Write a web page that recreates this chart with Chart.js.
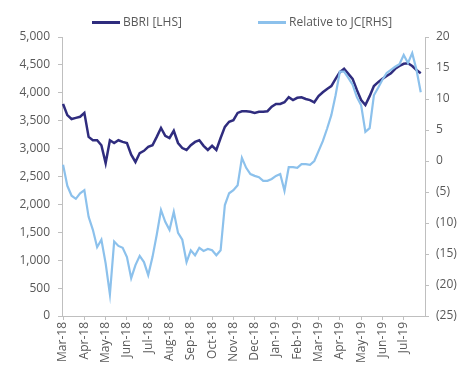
<!DOCTYPE html>
<html>
<head>
<meta charset="utf-8">
<script src="https://cdn.jsdelivr.net/npm/chart.js@4"></script>
<style>
  html, body { margin: 0; padding: 0; background: #fff; }
  #wrap { position: relative; width: 461px; height: 374px; }
  #legend { position: absolute; top: 13px; left: 0; width: 461px; height: 18px;
            font: 12px "Open Sans", sans-serif; color: #595959; }
  .item { position: absolute; top: 0; line-height: 18px; white-space: nowrap; }
  .swatch { display: inline-block; width: 28px; height: 3px; vertical-align: middle; margin-right: 3px; }
</style>
</head>
<body>
<div id="wrap">
  <canvas id="bbriChart" width="461" height="374"></canvas>
  <div id="legend"></div>
</div>
<script>
// month tick labels (one per month start)
const monthLabels = ['Mar-18', 'Apr-18', 'May-18', 'Jun-18', 'Jul-18', 'Aug-18', 'Sep-18', 'Oct-18',
    'Nov-18', 'Dec-18', 'Jan-19', 'Feb-19', 'Mar-19', 'Apr-19', 'May-19', 'Jun-19', 'Jul-19'];

// BBRI share price (LHS), sampled every 0.2 month from Mar-18
const bbri = [
    3800, 3600, 3530, 3550, 3570, 3640, 3210, 3150, 3150, 3060,
    2740, 3150, 3100, 3150, 3120, 3100, 2890, 2760, 2920, 2960,
    3030, 3060, 3210, 3370, 3230, 3190, 3320, 3100, 3010, 2975,
    3060, 3120, 3150, 3050, 2975, 3050, 2975, 3190, 3390, 3480,
    3510, 3640, 3670, 3670, 3660, 3640, 3660, 3660, 3670, 3750,
    3800, 3800, 3830, 3920, 3870, 3910, 3920, 3890, 3870, 3830,
    3940, 4010, 4070, 4120, 4250, 4370, 4430, 4340, 4250, 4050,
    3870, 3780, 3940, 4120, 4190, 4250, 4300, 4350, 4430, 4480,
    4520, 4530, 4480, 4410, 4350
];

// relative performance to JCI in % (RHS), same sampling
const relJci = [
    -0.6, -4.0, -5.6, -6.1, -5.2, -4.7, -9.0, -11.1, -13.9, -12.7,
    -16.5, -21.5, -13.0, -13.7, -14.0, -15.5, -18.9, -16.8, -15.3, -16.3,
    -18.4, -15.5, -11.9, -7.9, -9.8, -11.1, -8.2, -11.6, -12.7, -16.3,
    -14.4, -15.2, -14.0, -14.5, -14.2, -14.4, -15.2, -14.4, -7.1, -5.2,
    -4.7, -3.9, 0.5, -1.1, -2.1, -2.4, -2.6, -3.2, -3.2, -2.9,
    -2.4, -2.1, -4.8, -1.0, -1.0, -1.1, -0.5, -0.5, -0.6, 0.0,
    1.6, 3.2, 5.2, 7.4, 10.6, 14.4, 14.4, 13.4, 12.3, 10.3,
    9.0, 4.7, 5.3, 10.6, 11.8, 13.1, 14.2, 14.7, 15.2, 15.6,
    17.1, 15.8, 17.4, 14.7, 11.1
];

const darkBlue = '#2f2c7e';
const lightBlue = '#8cc1ec';
const axisGrey = '#bfbfbf';
const textGrey = '#595959';

const ctx = document.getElementById('bbriChart').getContext('2d');

const bbriPoints = bbri.map((v, i) => ({ x: i * 0.2, y: v }));
const relPoints = relJci.map((v, i) => ({ x: i * 0.2, y: v }));

const tickFont = { family: '"Open Sans", sans-serif', size: 12 };

const bbriChart = new Chart(ctx, {
    type: 'line',
    data: {
        datasets: [
            {
                label: 'BBRI [LHS]',
                data: bbriPoints,
                yAxisID: 'yLeft',
                borderColor: darkBlue,
                borderWidth: 2.5,
                pointRadius: 0,
                tension: 0,
                order: 1
            },
            {
                label: 'Relative to JC[RHS]',
                data: relPoints,
                yAxisID: 'yRight',
                borderColor: lightBlue,
                borderWidth: 2.2,
                pointRadius: 0,
                tension: 0,
                order: 0
            }
        ]
    },
    options: {
        responsive: false,
        animation: false,
        layout: { padding: { top: 37, left: 0, right: 0, bottom: 0 } },
        plugins: {
            legend: { display: false },
            tooltip: { enabled: false }
        },
        scales: {
            x: {
                type: 'linear',
                min: -0.05,
                max: 17.0,
                afterBuildTicks: (scale) => {
                    scale.ticks = monthLabels.map((_, i) => ({ value: i }));
                },
                afterFit: (scale) => { scale.height = 58; },
                grid: { drawOnChartArea: false, drawTicks: true, tickLength: 4, color: axisGrey },
                border: { display: true, color: axisGrey },
                ticks: {
                    autoSkip: false,
                    minRotation: 90,
                    maxRotation: 90,
                    padding: 2,
                    color: textGrey,
                    font: tickFont,
                    callback: (value) => monthLabels[value]
                }
            },
            yLeft: {
                position: 'left',
                min: 0,
                max: 5000,
                afterFit: (scale) => { scale.width = 62; },
                grid: { drawOnChartArea: false, drawTicks: true, tickLength: 4, color: axisGrey },
                border: { display: true, color: axisGrey },
                ticks: {
                    stepSize: 500,
                    padding: 8,
                    color: textGrey,
                    font: tickFont,
                    callback: (value) => value.toLocaleString('en-US')
                }
            },
            yRight: {
                position: 'right',
                min: -25,
                max: 20,
                afterFit: (scale) => { scale.width = 36; },
                grid: { drawOnChartArea: false, drawTicks: true, tickLength: 4, color: axisGrey },
                border: { display: true, color: axisGrey },
                ticks: {
                    stepSize: 5,
                    padding: 7,
                    color: textGrey,
                    font: tickFont,
                    callback: (value) => value < 0 ? '(' + (-value) + ')' : String(value)
                }
            }
        }
    }
});

// legend drawn as html so the two entries sit where the original has them
const legend = document.getElementById('legend');
const legendPos = [92, 258];
bbriChart.data.datasets.forEach((ds, i) => {
    const item = document.createElement('div');
    item.className = 'item';
    item.style.left = legendPos[i] + 'px';
    item.innerHTML = '<span class="swatch" style="background:' + ds.borderColor + '"></span>' + ds.label;
    legend.appendChild(item);
});
</script>
</body>
</html>
